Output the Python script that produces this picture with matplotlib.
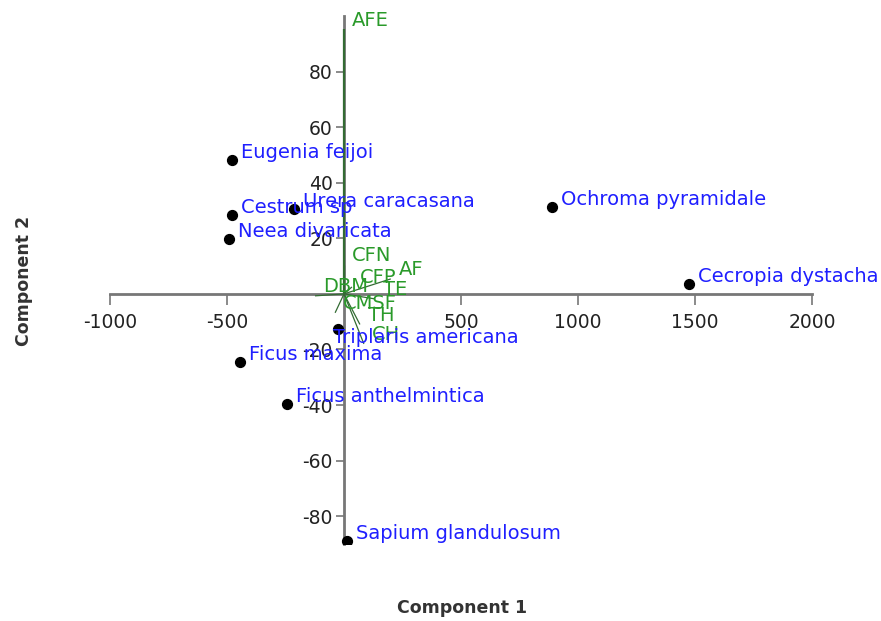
import matplotlib
matplotlib.use("Agg")
import matplotlib.pyplot as plt

# species scores (Component 1, Component 2)
species = ["Eugenia feijoi", "Cestrum sp", "Urera caracasana", "Neea divaricata",
           "Ochroma pyramidale", "Cecropia dystacha", "Triplaris americana",
           "Ficus maxima", "Ficus anthelmintica", "Sapium glandulosum"]
comp1 = [-478, -478, -214, -491, 889, 1474, -26, -444, -244, 13]
comp2 = [48.2, 28.4, 30.6, 19.8, 31.3, 3.6, -12.6, -24.5, -39.6, -88.8]

# trait loadings (scaled to plot)
traits = ["AFE", "CFN", "AF", "CFP", "DBM", "TE", "CMSF", "TH", "CH"]
load1 = [0, 0, 200, 34, -124, 132, -38, 68, 85]
load2 = [95.3, 10.4, 5.4, 2.5, -0.7, -1.8, -6.8, -11.0, -18.0]

xticks = [-1000, -500, 500, 1000, 1500, 2000]
yticks = [-80, -60, -40, -20, 20, 40, 60, 80]

BLUE = "#1f1fff"
GREEN_TXT = "#2a9a2a"
GREEN_LINE = "#336b33"
AXIS = "#777777"

# label placement (pixels from the point); default is up-right
default_off = (9, 7)
label_off = {"Triplaris americana": (-5, -9)}

fig = plt.figure(figsize=(8.81, 6.21), dpi=100)
ax = fig.add_axes([110 / 881, 77 / 621, 702 / 881, 528 / 621])
ax.set_xlim(-1000, 2000)
ax.set_ylim(-90, 100)

for s in ("top", "right"):
    ax.spines[s].set_visible(False)
for s in ("left", "bottom"):
    ax.spines[s].set_position(("data", 0))
    ax.spines[s].set_color(AXIS)
    ax.spines[s].set_linewidth(2)

ax.set_xticks(xticks)
ax.set_xticklabels([str(v) for v in xticks])
ax.set_yticks(yticks)
ax.set_yticklabels([str(v) for v in yticks])
ax.tick_params(axis="x", direction="out", length=8, width=1.2, color=AXIS,
               labelsize=13.5, labelcolor="#222222", pad=6)
ax.tick_params(axis="y", direction="out", length=6, width=1.2, color=AXIS,
               labelsize=13.5, labelcolor="#222222", pad=2)

# loading vectors
for name, lx, ly in zip(traits, load1, load2):
    lw = 1.6 if name == "AFE" else 0.9
    ax.plot([0, lx], [0, ly], color=GREEN_LINE, lw=lw, zorder=3,
            solid_capstyle="butt")
    ax.annotate(name, (lx, ly), xytext=(8, 9), textcoords="offset pixels",
                color=GREEN_TXT, fontsize=14, va="center", ha="left", zorder=5)

# species points
ax.scatter(comp1, comp2, s=50, color="black", zorder=4)
for name, x, y in zip(species, comp1, comp2):
    ax.annotate(name, (x, y), xytext=label_off.get(name, default_off),
                textcoords="offset pixels",
                color=BLUE, fontsize=14, va="center", ha="left", zorder=6)

fig.text(462 / 881, 1 - 608 / 621, "Component 1", ha="center", va="center",
         fontsize=12.5, fontweight="bold", color="#333333")
fig.text(24 / 881, 1 - 281 / 621, "Component 2", ha="center", va="center",
         rotation=90, fontsize=12.5, fontweight="bold", color="#333333")

fig.savefig("out.png", dpi=100)
